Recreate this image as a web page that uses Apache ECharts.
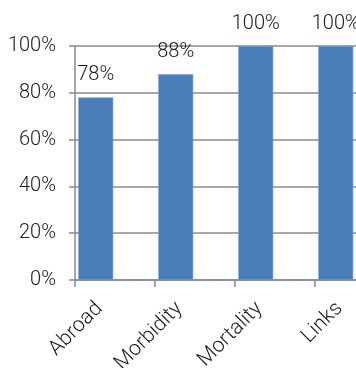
<!DOCTYPE html>
<html>
<head>
<meta charset="utf-8">
<script src="https://cdn.jsdelivr.net/npm/echarts@6/dist/echarts.min.js"></script>
<style>
  html, body { margin: 0; padding: 0; background: #fff; }
  #chart { width: 356px; height: 368px; }
</style>
</head>
<body>
<div id="chart"></div>
<script>
// Share of records per category (percent)
const categories = ['Abroad', 'Morbidity', 'Mortality', 'Links'];
const shares = [78, 88, 100, 100];
const emptySeries = [null, null, null, null];
const yTicks = [0, 20, 40, 60, 80, 100];

const FONT = 'Roboto';
const WEIGHT = 300;
const TEXT = '#1a1a1a';
const GRID = '#8a8a8a';

const chart = echarts.init(document.getElementById('chart'), null, { renderer: 'canvas' });
chart.setOption({
  animation: false,
  backgroundColor: '#ffffff',
  grid: { left: 75, top: 46, width: 320, height: 234, containLabel: false, outerBoundsMode: 'none' },
  xAxis: {
    type: 'category',
    data: categories,
    boundaryGap: true,
    axisLine: { show: true, lineStyle: { color: GRID, width: 1.5 } },
    axisTick: { show: true, length: 7, lineStyle: { color: GRID, width: 1.5 } },
    axisLabel: {
      rotate: 45,
      margin: 10,
      padding: [0, 22, 0, 0],
      fontFamily: FONT,
      fontWeight: WEIGHT,
      fontSize: 21,
      color: TEXT,
      interval: 0
    }
  },
  yAxis: {
    type: 'value',
    min: yTicks[0],
    max: yTicks[yTicks.length - 1],
    interval: yTicks[1] - yTicks[0],
    axisLine: { show: true, lineStyle: { color: GRID, width: 1.5 } },
    axisTick: { show: true, length: 6, lineStyle: { color: GRID, width: 1.5 } },
    splitLine: { show: true, lineStyle: { color: GRID, width: 1.5 } },
    axisLabel: {
      margin: 19,
      fontFamily: FONT,
      fontWeight: WEIGHT,
      fontSize: 20,
      color: TEXT,
      formatter: v => v + '%'
    }
  },
  series: [
    {
      type: 'bar',
      data: shares,
      barWidth: 35,
      barGap: '10%',
      itemStyle: { color: '#4a7ebb', borderColor: '#7aa0d0', borderWidth: 0.6 },
      label: {
        show: true,
        position: 'top',
        distance: 12,
        fontFamily: FONT,
        fontWeight: WEIGHT,
        fontSize: 20,
        color: TEXT,
        formatter: p => p.value + '%'
      }
    },
    {
      type: 'bar',
      data: emptySeries,
      barWidth: 35
    }
  ]
});
</script>
</body>
</html>
